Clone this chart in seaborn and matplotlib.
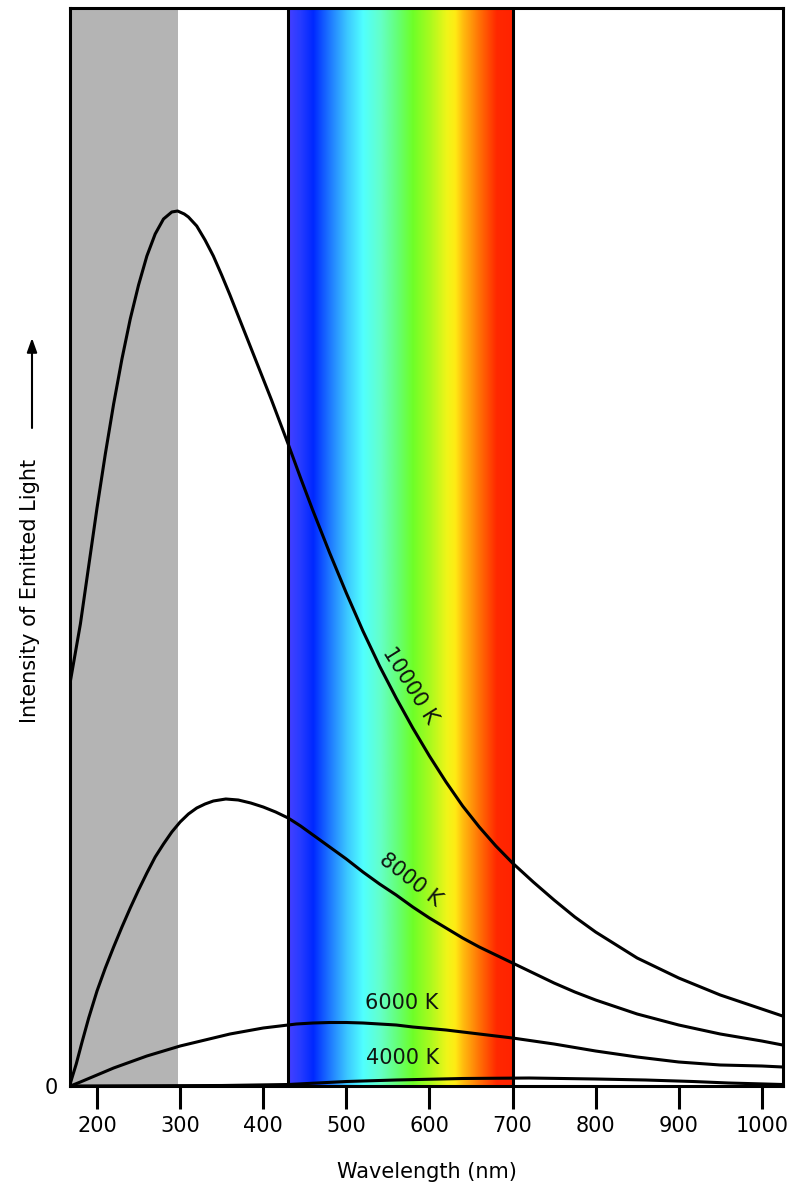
import numpy as np
import pandas as pd
import matplotlib
matplotlib.use("Agg")
import matplotlib.pyplot as plt
import seaborn as sns
from matplotlib.colors import LinearSegmentedColormap

# ---------------- data ----------------
wl_10000 = [168, 180, 190, 200, 210, 220, 230, 240, 250, 260, 270, 280, 290, 297, 305,
            310, 320, 330, 340, 350, 360, 370, 380, 390, 400, 410, 420, 430, 445, 460,
            480, 500, 520, 540, 560, 580, 600, 620, 640, 660, 680, 700, 725, 750, 775,
            800, 850, 900, 950, 1000, 1025]
int_10000 = [405, 462, 520, 578, 632, 682, 727, 767, 801, 830, 852, 867, 874, 875, 872,
             869, 860, 846, 830, 811, 791, 770, 749, 728, 707, 686, 664, 642, 608, 575,
             533, 493, 455, 420, 388, 358, 330, 304, 280, 259, 240, 223, 204, 186, 169,
             154, 128, 108, 91, 77, 70]

wl_8000 = [168, 175, 182, 190, 200, 210, 220, 230, 240, 250, 260, 270, 280, 290, 300,
           310, 320, 330, 340, 355, 370, 385, 400, 415, 430, 445, 460, 480, 500, 520,
           540, 560, 580, 600, 620, 640, 660, 680, 700, 725, 750, 775, 800, 850, 900,
           950, 1000, 1025]
int_8000 = [3, 22, 44, 68, 95, 118, 139, 159, 178, 196, 213, 229, 242, 254, 264,
            272, 278, 282, 285, 287, 286, 283, 279, 274, 268, 260, 251, 239, 227, 214,
            202, 191, 179, 168, 158, 148, 139, 131, 123, 113, 103, 94, 86, 72, 61,
            52, 45, 41]

wl_6000 = [168, 180, 200, 220, 240, 260, 280, 300, 320, 340, 360, 380, 400, 420, 440,
           460, 480, 500, 520, 540, 560, 580, 600, 620, 640, 660, 680, 700, 750, 800,
           850, 900, 950, 1000, 1025]
int_6000 = [0, 4, 11, 18, 24, 30, 35, 40, 44, 48, 52, 55, 58, 60, 62,
            63, 63.5, 63.5, 63, 62, 61, 59, 57.5, 56, 54, 52, 50, 48, 42, 35,
            29, 24, 21, 20, 19]

wl_4000 = [168, 350, 430, 465, 500, 560, 640, 720, 800, 860, 917, 960, 1025]
int_4000 = [0, 0.5, 1.5, 3, 4.5, 6, 7.5, 8, 7, 6, 4.5, 3, 1.5]

temperatures = ["10000 K", "8000 K", "6000 K", "4000 K"]
label_wl = [577, 577, 567, 568]
label_int = [401, 206, 83, 28]
label_rot = [-58, -38, 0, 0]

x_ticks = [200, 300, 400, 500, 600, 700, 800, 900, 1000]
x_limits = [167.5, 1025.5]
y_limits = [0, 1078]
uv_band = [167.5, 298]
visible_band = [430, 700]

spectrum_wl = [430, 444, 460, 480, 501, 520, 541, 561, 580, 601, 621, 631, 640, 661, 681, 700]
spectrum_colors = ["#4640ff", "#283cff", "#0028ff", "#1e78ff", "#3cc8ff", "#50ffff",
                   "#64ffc8", "#64ff78", "#6eff28", "#aafa1e", "#f0f519", "#ffeb14",
                   "#ffbe0f", "#ff6e05", "#ff2800", "#ff2300"]

# ---------------- figure ----------------
sns.set_theme(style="white")
plt.rcParams['font.family'] = ['DejaVu Sans']

W, H = 799, 1190
fig = plt.figure(figsize=(W / 100, H / 100), dpi=100)
fig.patch.set_facecolor("white")
ax = fig.add_axes([70 / W, 1 - 1086 / H, (783 - 70) / W, (1086 - 8) / H])
ax.set_facecolor("white")

# UV band
ax.axvspan(uv_band[0], uv_band[1], color="#b4b4b4", lw=0, zorder=0)

# visible spectrum
pos = [(w - visible_band[0]) / (visible_band[1] - visible_band[0]) for w in spectrum_wl]
cmap = LinearSegmentedColormap.from_list("spec", list(zip(pos, spectrum_colors)))
ax.imshow(np.linspace(0, 1, 512)[None, :], extent=[visible_band[0], visible_band[1], y_limits[0], y_limits[1]],
          aspect="auto", cmap=cmap, zorder=0.5, interpolation="bilinear")
for v in visible_band:
    ax.axvline(v, color="black", lw=2.2, zorder=1)

# curves
frames = []
for name, wl, it in zip(temperatures, [wl_10000, wl_8000, wl_6000, wl_4000],
                        [int_10000, int_8000, int_6000, int_4000]):
    frames.append(pd.DataFrame({"wavelength": wl, "intensity": it, "T": name}))
df = pd.concat(frames, ignore_index=True)
sns.lineplot(data=df, x="wavelength", y="intensity", hue="T", palette=["black"] * 4,
             estimator=None, sort=False, legend=False, lw=2.2, ax=ax, zorder=3)

for name, lx, ly, rot in zip(temperatures, label_wl, label_int, label_rot):
    ax.text(lx, ly, name, rotation=rot, ha="center", va="center", fontsize=15,
            color="#101510", zorder=4)

ax.set_xlim(*x_limits)
ax.set_ylim(*y_limits)

# axes styling
for s in ax.spines.values():
    s.set_visible(True)
    s.set_color("black")
    s.set_linewidth(2.2)
    s.set_zorder(5)

ax.set_xticks(x_ticks)
ax.set_xticklabels([str(t) for t in x_ticks])
ax.tick_params(axis="x", bottom=True, direction="out", length=16.5, width=2.2,
               pad=5, labelsize=15, colors="black")
ax.set_yticks([0])
ax.set_yticklabels(["0"])
ax.tick_params(axis="y", left=True, length=0, pad=9, labelsize=15, colors="black")

ax.set_xlabel("Wavelength (nm)", fontsize=15, color="black")
ax.xaxis.label.set_va("center")
ax.xaxis.set_label_coords((427 - 70) / 713, (1086 - 1172) / 1078)
ax.set_ylabel("Intensity of Emitted Light", fontsize=15, color="black")
ax.yaxis.label.set_va("center")
ax.yaxis.set_label_coords((30 - 70) / 713, (1086 - 591) / 1078)

ax.annotate("", xy=(32, H - 338), xytext=(32, H - 428), xycoords="figure pixels",
            textcoords="figure pixels", annotation_clip=False,
            arrowprops=dict(arrowstyle="-|>,head_length=0.7,head_width=0.25",
                            color="black", lw=1.5, shrinkA=0, shrinkB=0))

fig.savefig("out.png", dpi=100, facecolor="white")
